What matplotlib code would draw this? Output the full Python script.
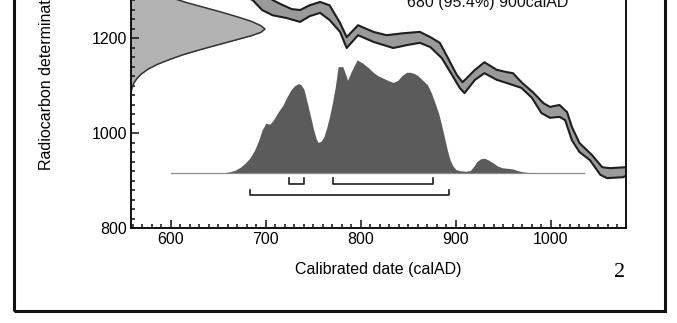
import matplotlib
matplotlib.use("Agg")
import matplotlib.pyplot as plt
from matplotlib.patches import Rectangle
from matplotlib.ticker import MultipleLocator, FixedLocator

plt.rcParams['font.family'] = ['Liberation Sans', 'DejaVu Sans']

# calibration curve, upper and lower edge of the band (calAD, BP)
cal_up_year = [672, 707, 715, 727, 736, 746, 757, 767, 778, 785, 797, 813, 827, 844,
               862, 873, 883, 890, 901, 907, 920, 930, 943, 954, 960, 970, 981, 992,
               999, 1009, 1017, 1022, 1030, 1043, 1054, 1062, 1079]
cal_up_bp = [1333, 1280, 1272, 1261, 1259, 1269, 1276, 1269, 1232, 1202, 1227, 1213, 1206, 1210,
             1213, 1202, 1190, 1164, 1122, 1107, 1133, 1149, 1133, 1128, 1126, 1105, 1086, 1063,
             1055, 1059, 1044, 1013, 979, 954, 928, 926, 928]
cal_lo_year = [662, 686, 696, 707, 722, 736, 746, 757, 767, 778, 785, 797, 813, 834,
               848, 862, 873, 885, 896, 904, 909, 920, 930, 943, 954, 960, 969, 980,
               990, 999, 1009, 1015, 1022, 1030, 1041, 1052, 1059, 1076, 1079]
cal_lo_bp = [1301, 1280, 1259, 1248, 1242, 1234, 1246, 1253, 1238, 1213, 1179, 1206, 1192, 1179,
             1185, 1190, 1181, 1158, 1122, 1095, 1084, 1112, 1126, 1112, 1105, 1101, 1095, 1074,
             1042, 1032, 1034, 1027, 985, 960, 943, 912, 905, 907, 910]

# measurement on the y axis (BP, relative probability)
meas_bp = [1085, 1095, 1105, 1115, 1125, 1135, 1145, 1155, 1165, 1175, 1185, 1195, 1205,
           1212, 1219, 1226, 1235, 1245, 1255, 1265, 1275, 1285, 1295, 1310, 1330, 1350, 1380]
meas_prob = [0, 0.008, 0.02, 0.045, 0.08, 0.13, 0.2, 0.29, 0.39, 0.51, 0.64, 0.77, 0.9,
             0.97, 1.0, 0.97, 0.9, 0.79, 0.67, 0.54, 0.41, 0.3, 0.2, 0.1, 0.03, 0.008, 0]

# calibrated distribution (calAD, relative probability)
post_year = [600, 655, 662, 668, 673, 678, 683, 688, 692, 696, 700, 704, 708, 713, 718, 722,
             726, 730, 734, 737, 740, 743, 747, 750, 753, 755, 758, 761, 764, 767, 770,
             773, 776, 781, 786, 790, 796, 802, 808, 813, 818, 823, 828, 834, 839, 843,
             848, 852, 856, 860, 865, 870, 874, 878, 882, 885, 888, 891, 894, 897, 900,
             904, 910, 915, 919, 922, 926, 930, 934, 939, 944, 949, 955, 960, 965, 970,
             976, 981, 1035]
post_prob = [0, 0, 0.01, 0.025, 0.05, 0.085, 0.13, 0.2, 0.28, 0.38, 0.44, 0.43, 0.47, 0.54, 0.6, 0.67,
             0.73, 0.77, 0.79, 0.78, 0.74, 0.64, 0.5, 0.39, 0.3, 0.27, 0.28, 0.32, 0.4, 0.5, 0.62,
             0.76, 0.94, 0.94, 0.82, 0.9, 1.0, 0.97, 0.93, 0.89, 0.86, 0.84, 0.82, 0.8, 0.82, 0.86,
             0.89, 0.89, 0.88, 0.86, 0.82, 0.78, 0.71, 0.62, 0.52, 0.42, 0.31, 0.2, 0.11, 0.06, 0.03,
             0.02, 0.015, 0.02, 0.06, 0.1, 0.125, 0.13, 0.115, 0.09, 0.06, 0.045, 0.04, 0.035, 0.02, 0.01,
             0.004, 0, 0]

range_95 = [(683, 893)]
range_68 = [(724, 740), (771, 876)]
range_text = "680 (95.4%) 900calAD"

W, H = 677, 323
fig = plt.figure(figsize=(W / 100, H / 100), dpi=100)
ax = fig.add_axes([131 / W, 95 / H, 495 / W, 350 / H])
xmin, xmax = 558, 1079
ax.set_xlim(xmin, xmax)
ax.set_ylim(800, 1537)

dark = '#1e1e1e'

# measurement gaussian
gx = [xmin + p * 141 for p in meas_prob]
ax.fill_betweenx(meas_bp, xmin, gx, color='#b3b3b3', lw=0)
ax.plot(gx, meas_bp, color='#333333', lw=1.1)

# calibration curve band
poly_x = cal_up_year + cal_lo_year[::-1]
poly_y = cal_up_bp + cal_lo_bp[::-1]
ax.fill(poly_x, poly_y, color='#9a9a9a', lw=0)
ax.plot(cal_up_year, cal_up_bp, color=dark, lw=1.5)
ax.plot(cal_lo_year, cal_lo_bp, color=dark, lw=1.5)

# calibrated distribution
base = 916
py = [base + p * 238 for p in post_prob]
ax.fill_between(post_year, base, py, color='#5b5b5b', lw=0)
ax.plot([post_year[0], post_year[-1]], [base, base], color='#8a8a8a', lw=0.9)

# ranges
for lo, hi in range_68:
    ax.plot([lo, lo, hi, hi], [905, 893, 893, 905], color=dark, lw=1.2)
for lo, hi in range_95:
    ax.plot([lo, lo, hi, hi], [881, 869, 869, 881], color=dark, lw=1.2)

ax.text(933, 1266, range_text, ha='center', va='baseline', fontsize=11.5, color='#111')

# axes styling
ax.spines['top'].set_visible(False)
for s in ['left', 'bottom', 'right']:
    ax.spines[s].set_linewidth(1.4)
    ax.spines[s].set_color('#111')
ax.xaxis.set_major_locator(MultipleLocator(100))
ax.xaxis.set_minor_locator(MultipleLocator(10))
ax.yaxis.set_major_locator(FixedLocator([800, 1000, 1200]))
ax.yaxis.set_minor_locator(FixedLocator(list(range(820, 1300, 20))))
ax.tick_params(which='both', direction='in', top=False, right=False, width=1.1, color='#111')
ax.tick_params(which='major', length=6, labelsize=11.5, pad=3)
ax.tick_params(which='minor', length=3)

fig.text(378.5 / W, (H - 274) / H, 'Calibrated date (calAD)', ha='center', va='baseline', fontsize=11.5)
fig.text(46 / W, (H - 170) / H, 'Radiocarbon determination (BP)', rotation=90,
         ha='center', va='bottom', fontsize=11.5)
fig.text(620 / W, (H - 277) / H, '2', family='Liberation Serif', ha='center', va='baseline', fontsize=16)

fig.add_artist(Rectangle((14 / W, 12 / H), 651 / W, 1.2, transform=fig.transFigure,
                         fill=False, lw=2.2, ec='#111', clip_on=False))

fig.savefig('out.png', dpi=100, facecolor='white')
